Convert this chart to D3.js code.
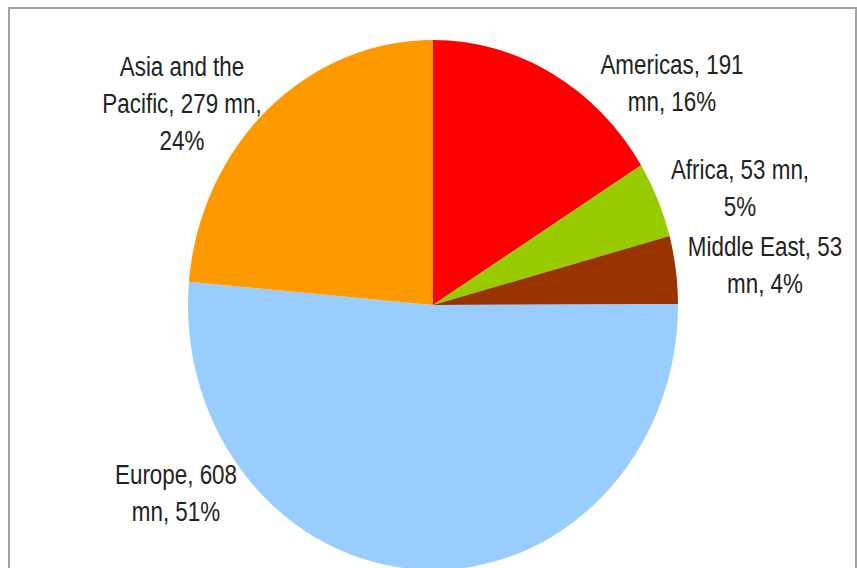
<!DOCTYPE html>
<html>
<head>
<meta charset="utf-8">
<script src="https://cdn.jsdelivr.net/npm/d3@7"></script>
<style>
    html, body { margin: 0; padding: 0; background: #fff; overflow: hidden; }
    text { font-family: "Liberation Sans", Arial, sans-serif; fill: #222; }
</style>
</head>
<body>
<script>
// 区域（按顺时针，从正上方开始）
const regions = ['Americas', 'Africa', 'Middle East', 'Europe', 'Asia and the Pacific'];
// 扇形大小（按图中角度估计）
const shares = [191, 55, 49, 608, 279];
// 标签文字
const labelLines = [
    ['Americas, 191', 'mn, 16%'],
    ['Africa, 53 mn,', '5%'],
    ['Middle East, 53', 'mn, 4%'],
    ['Europe, 608', 'mn, 51%'],
    ['Asia and the', 'Pacific, 279 mn,', '24%']
];
const colors = ['#ff0000', '#99cc00', '#993300', '#99ccff', '#ff9900'];

// svg区域大小
const width = 857;
const height = 568;
const cx = 433;
const cy = 305;
const radius = 245;
const stretch = 265 / 245;

// 标签位置（第一行中心）
const labelAt = [[672, 64], [740, 169], [765, 246], [176, 474], [182, 66]];
const lineStep = 37;
const fontSize = 28;
const squeeze = 0.8;

const svg = d3.select('body')
    .append('svg')
    .attr('width', width)
    .attr('height', height);

// 外框
svg.append('rect')
    .attr('x', 9)
    .attr('y', 8)
    .attr('width', 847)
    .attr('height', 600)
    .attr('fill', 'none')
    .attr('stroke', '#a3a3a3')
    .attr('stroke-width', 2);

const pie = d3.pie()
    .sort(null)
    .value(d => d);

const arc = d3.arc()
    .innerRadius(0)
    .outerRadius(radius);

const colorScale = d3.scaleOrdinal()
    .domain(regions)
    .range(colors);

// 画扇形
svg.append('g')
    .attr('transform', `translate(${cx},${cy}) scale(1,${stretch})`)
    .selectAll('path')
    .data(pie(shares))
    .join('path')
    .attr('d', arc)
    .attr('fill', (d, i) => colorScale(regions[i]));

// 填写文字
const labels = svg.append('g')
    .selectAll('g')
    .data(labelLines)
    .join('g')
    .attr('transform', (d, i) => `translate(${labelAt[i][0]},${labelAt[i][1]}) scale(${squeeze},1)`);

labels.selectAll('text')
    .data(d => d)
    .join('text')
    .attr('text-anchor', 'middle')
    .attr('dy', '0.36em')
    .attr('y', (d, i) => i * lineStep)
    .attr('font-size', fontSize)
    .text(d => d);
</script>
</body>
</html>
